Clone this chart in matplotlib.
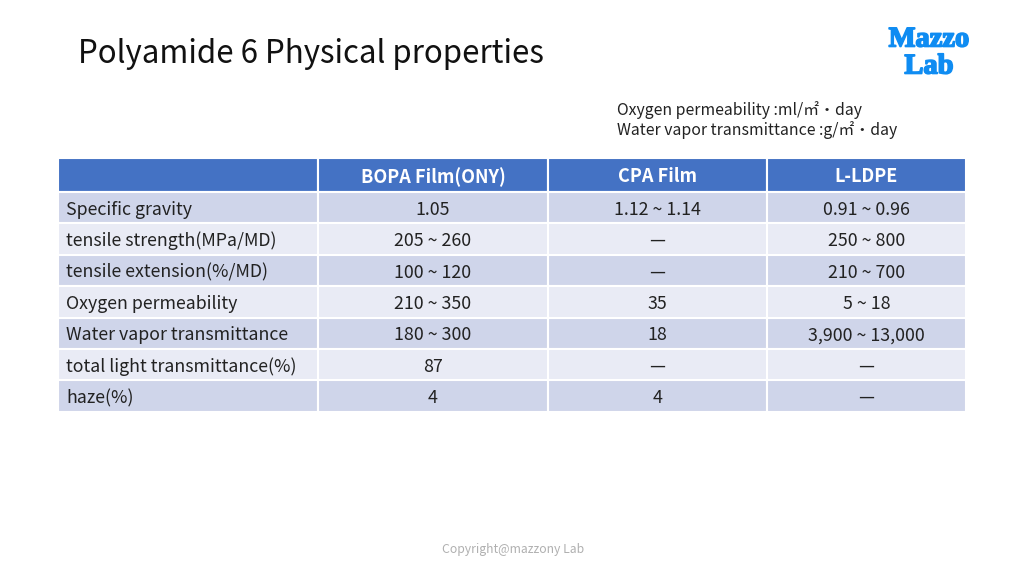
import matplotlib
matplotlib.use('Agg')
import matplotlib.pyplot as plt
import matplotlib.patheffects as pe
from matplotlib.patches import Rectangle

plt.rcParams['font.family'] = ['Noto Sans CJK SC', 'DejaVu Sans']

# 表格数据
title = 'Polyamide 6 Physical properties'
headers = ['', 'BOPA Film(ONY)', 'CPA Film', 'L-LDPE']
properties = ['Specific gravity', 'tensile strength(MPa/MD)', 'tensile extension(%/MD)',
              'Oxygen permeability', 'Water vapor transmittance',
              'total light transmittance(%)', 'haze(%)']
bopa = ['1.05', '205 ~ 260', '100 ~ 120', '210 ~ 350', '180 ~ 300', '87', '4']
cpa = ['1.12 ~ 1.14', '—', '—', '35', '18', '—', '4']
lldpe = ['0.91 ~ 0.96', '250 ~ 800', '210 ~ 700', '5 ~ 18', '3,900 ~ 13,000', '—', '—']
units = ['Oxygen permeability :ml/㎡・day', 'Water vapor transmittance :g/㎡・day']

# 布局 (像素)
col_edges = [58, 318, 548, 767, 966]
header_top, header_bottom = 158, 192
row_h = 31.4
text_shift = 2  # 字体垂直偏移补偿

fig = plt.figure(figsize=(10.24, 5.76), dpi=100)
ax = fig.add_axes([0, 0, 1, 1])
ax.set_xlim(0, 1024)
ax.set_ylim(576, 0)
ax.axis('off')

# 标题
ax.text(78, 54, title, fontsize=22.5, color='#111111', va='center', ha='left')

# Logo (加粗描边)
logo_fx = [pe.withStroke(linewidth=1.2, foreground='#0f8cf2')]
ax.text(929, 40, 'Mazzo', fontsize=20.5, color='#0f8cf2', fontweight='bold',
        family='Liberation Serif', ha='center', va='center', path_effects=logo_fx)
ax.text(929, 67, 'Lab', fontsize=20.5, color='#0f8cf2', fontweight='bold',
        family='Liberation Serif', ha='center', va='center', path_effects=logo_fx)

# 单位说明
ax.text(617, 110, units[0], fontsize=11.4, color='#222222', va='center', ha='left')
ax.text(617, 130, units[1], fontsize=11.4, color='#222222', va='center', ha='left')

# 表头
for j in range(4):
    x0, x1 = col_edges[j], col_edges[j + 1]
    ax.add_patch(Rectangle((x0, header_top), x1 - x0, header_bottom - header_top,
                           facecolor='#4472C4', edgecolor='white', linewidth=1.5))
    if headers[j]:
        ax.text((x0 + x1) / 2, (header_top + header_bottom) / 2 + text_shift, headers[j],
                fontsize=13, color='white', fontweight='bold', ha='center', va='center')

# 数据行
for i in range(len(properties)):
    y0 = header_bottom + i * row_h
    color = '#CFD5EA' if i % 2 == 0 else '#E9EBF5'
    values = [properties[i], bopa[i], cpa[i], lldpe[i]]
    for j in range(4):
        x0, x1 = col_edges[j], col_edges[j + 1]
        ax.add_patch(Rectangle((x0, y0), x1 - x0, row_h,
                               facecolor=color, edgecolor='white', linewidth=1.5))
        yc = y0 + row_h / 2 + text_shift
        if j == 0:
            ax.text(x0 + 8, yc, values[j], fontsize=12.8, color='#222222',
                    ha='left', va='center')
        else:
            ax.text((x0 + x1) / 2, yc, values[j], fontsize=12.8, color='#222222',
                    ha='center', va='center')

# 版权
ax.text(513, 549, 'Copyright@mazzony Lab', fontsize=8.8, color='#b0b0b0',
        ha='center', va='center')

fig.savefig('out.png', dpi=100, facecolor='white')
